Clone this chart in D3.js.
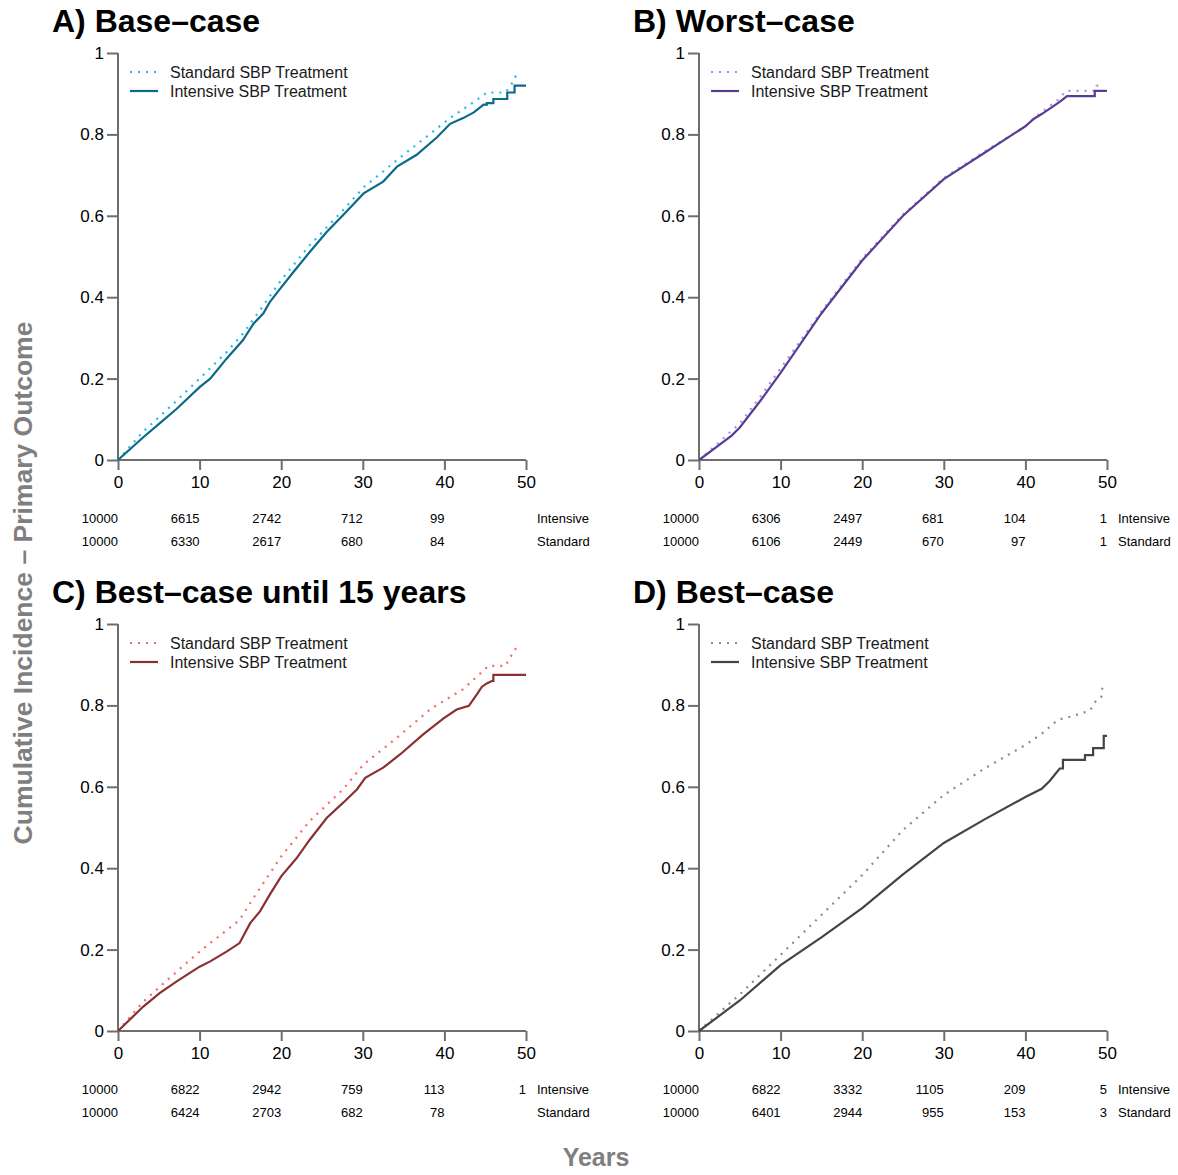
<!DOCTYPE html>
<html lang="en">
<head>
<meta charset="UTF-8">
<title>Cumulative incidence</title>
<script src="https://d3js.org/d3.v7.min.js"></script>
<style>
  body { margin: 0; background: #fff; }
  svg { font-family: "Liberation Sans", Arial, Helvetica, sans-serif; }
  .axis path, .axis line { stroke: #6e6e6e; stroke-width: 2; }
  .axis text { font-size: 17px; fill: #000; }
</style>
</head>
<body>
<svg width="1178" height="1175"></svg>
<script>
// [year, cumulative incidence]
const baseStandard = [[0,0],[3,0.068],[7.2,0.146],[10,0.2],[13.3,0.265],[15.3,0.31],[17.4,0.368],[20,0.442],[23.5,0.528],[27.6,0.614],[30.1,0.67],[34.2,0.737],[39.1,0.815],[40.7,0.84],[44,0.885],[45.2,0.903],[47.5,0.903],[48.3,0.926],[48.7,0.942],[49.5,0.942]];
const baseIntensive = [[0,0],[3.1,0.056],[5.1,0.09],[7.2,0.126],[10,0.179],[11.3,0.2],[13.3,0.249],[15.3,0.294],[16.6,0.335],[17.8,0.36],[18.6,0.388],[20,0.424],[21.5,0.462],[23.5,0.511],[25.6,0.561],[27.6,0.602],[30.1,0.655],[32.5,0.684],[34.2,0.721],[36.6,0.75],[39.1,0.793],[40.7,0.826],[42.3,0.84],[43.6,0.854],[44.8,0.873],[45.2,0.873],[45.2,0.877],[46,0.877],[46,0.887],[47.7,0.887],[47.7,0.903],[48.6,0.903],[48.6,0.92],[50,0.92]];

const worstStandard = [[0,0],[2,0.035],[5,0.09],[7.5,0.155],[10,0.225],[15,0.365],[20,0.495],[25,0.603],[30,0.693],[35,0.758],[40,0.82],[42,0.855],[44,0.885],[45,0.907],[48.6,0.907],[48.7,0.919],[49.4,0.923]];
const worstIntensive = [[0,0],[2,0.03],[4,0.06],[5,0.08],[7.5,0.145],[10,0.214],[15,0.36],[20,0.49],[25,0.6],[30,0.69],[35,0.755],[40,0.82],[41,0.838],[42,0.85],[44.2,0.88],[45.1,0.894],[48.5,0.894],[48.5,0.907],[50,0.907]];

const bestUntil15Standard = [[0,0],[3.1,0.072],[7.2,0.146],[10,0.195],[14.9,0.273],[16.6,0.327],[20,0.429],[23.5,0.516],[27.6,0.594],[30.1,0.655],[34.2,0.721],[38.3,0.791],[42.3,0.84],[45.4,0.897],[47.5,0.897],[47.9,0.913],[49.1,0.951]];
const bestUntil15Intensive = [[0,0],[3.1,0.06],[5.1,0.093],[7.2,0.122],[10,0.158],[11.3,0.171],[13.3,0.195],[14.9,0.216],[16.2,0.265],[17.4,0.294],[18.6,0.335],[20,0.38],[21.9,0.425],[23.5,0.47],[25.6,0.524],[27.6,0.561],[29.3,0.594],[30.3,0.622],[32.5,0.647],[34.6,0.68],[37.4,0.729],[39.9,0.768],[41.5,0.79],[43,0.799],[44,0.828],[44.6,0.846],[45.2,0.854],[45.8,0.86],[46,0.86],[46,0.875],[50,0.875]];

const bestStandard = [[0,0],[5,0.09],[10,0.187],[15,0.285],[20,0.383],[25,0.494],[30,0.58],[35,0.645],[40,0.703],[42,0.73],[44,0.765],[45.5,0.772],[47.9,0.787],[48.7,0.813],[49.3,0.821],[49.4,0.84],[49.6,0.856]];
const bestIntensive = [[0,0],[5,0.075],[10,0.162],[15,0.23],[20,0.302],[25,0.385],[30,0.462],[35,0.52],[40,0.575],[42,0.595],[43,0.615],[44.2,0.645],[44.6,0.645],[44.6,0.666],[47.3,0.666],[47.3,0.678],[48.3,0.678],[48.3,0.695],[49.6,0.695],[49.6,0.725],[50,0.725]];

const xTicks = [0, 10, 20, 30, 40, 50];
const yTicks = [0, 0.2, 0.4, 0.6, 0.8, 1];
const riskTimes = [0, 10, 20, 30, 40, 50];
const riskLabels = ["Intensive", "Standard"];

const baseRiskInt = [10000, 6615, 2742, 712, 99, null];
const baseRiskStd = [10000, 6330, 2617, 680, 84, null];
const worstRiskInt = [10000, 6306, 2497, 681, 104, 1];
const worstRiskStd = [10000, 6106, 2449, 670, 97, 1];
const bestUntil15RiskInt = [10000, 6822, 2942, 759, 113, 1];
const bestUntil15RiskStd = [10000, 6424, 2703, 682, 78, null];
const bestRiskInt = [10000, 6822, 3332, 1105, 209, 5];
const bestRiskStd = [10000, 6401, 2944, 955, 153, 3];

const legendNames = ["Standard SBP Treatment", "Intensive SBP Treatment"];

const panels = [
  { title: "A) Base\u2013case", left: 118, top: 53, std: baseStandard, int: baseIntensive,
    riskInt: baseRiskInt, riskStd: baseRiskStd, cStd: "#23b9ea", cInt: "#0b6a8a" },
  { title: "B) Worst\u2013case", left: 699, top: 53, std: worstStandard, int: worstIntensive,
    riskInt: worstRiskInt, riskStd: worstRiskStd, cStd: "#a78cf2", cInt: "#583d93" },
  { title: "C) Best\u2013case until 15 years", left: 118, top: 624, std: bestUntil15Standard, int: bestUntil15Intensive,
    riskInt: bestUntil15RiskInt, riskStd: bestUntil15RiskStd, cStd: "#f26a6a", cInt: "#8a3030" },
  { title: "D) Best\u2013case", left: 699, top: 624, std: bestStandard, int: bestIntensive,
    riskInt: bestRiskInt, riskStd: bestRiskStd, cStd: "#8c8c8c", cInt: "#444444" }
];

const W = 408, H = 407;
const svg = d3.select("svg");

panels.forEach(p => {
  const g = svg.append("g").attr("transform", `translate(${p.left},${p.top})`);
  const x = d3.scaleLinear().domain([0, 50]).range([0, W]);
  const y = d3.scaleLinear().domain([0, 1]).range([H, 0]);

  g.append("text")
    .attr("x", -66).attr("y", -21)
    .attr("font-size", 32).attr("font-weight", "bold")
    .text(p.title);

  g.append("g").attr("class", "axis")
    .attr("transform", `translate(0,${H})`)
    .call(d3.axisBottom(x).tickValues(xTicks).tickSize(10).tickPadding(6).tickFormat(d3.format("d")))
    .call(a => a.select(".domain").attr("d", `M0,0H${W}`));

  g.append("g").attr("class", "axis")
    .call(d3.axisLeft(y).tickValues(yTicks).tickSize(11).tickPadding(3).tickFormat(d => d === 0 || d === 1 ? d3.format("d")(d) : d3.format(".1f")(d)))
    .call(a => a.select(".domain").attr("d", `M0,${H}V0`));
  g.selectAll(".axis text").attr("font-family", "Liberation Sans, Arial, sans-serif");

  const line = d3.line().x(d => x(d[0])).y(d => y(d[1]));

  g.append("path").datum(p.std)
    .attr("d", line).attr("fill", "none")
    .attr("stroke", p.cStd).attr("stroke-width", 2.2)
    .attr("stroke-dasharray", "2,6");
  g.append("path").datum(p.int)
    .attr("d", line).attr("fill", "none")
    .attr("stroke", p.cInt).attr("stroke-width", 2.2);

  // legend
  const lg = g.append("g").attr("transform", "translate(12,19)");
  [p.cStd, p.cInt].forEach((c, i) => {
    lg.append("line")
      .attr("x1", 0).attr("x2", 28).attr("y1", i * 19).attr("y2", i * 19)
      .attr("stroke", c).attr("stroke-width", 2.2)
      .attr("stroke-dasharray", i === 0 ? "2,6" : null);
    lg.append("text")
      .attr("x", 40).attr("y", i * 19 + 6)
      .attr("font-size", 16).attr("fill", "#1a1a1a")
      .text(legendNames[i]);
  });

  // numbers at risk
  [p.riskInt, p.riskStd].forEach((row, r) => {
    const ty = H + 63 + r * 22.5;
    row.forEach((v, i) => {
      if (v === null) return;
      g.append("text")
        .attr("x", x(riskTimes[i])).attr("y", ty)
        .attr("text-anchor", "end").attr("font-size", 13)
        .text(v);
    });
    g.append("text")
      .attr("x", W + 11).attr("y", ty)
      .attr("font-size", 13)
      .text(riskLabels[r]);
  });
});

svg.append("text")
  .attr("transform", "translate(32,583) rotate(-90)")
  .attr("text-anchor", "middle")
  .attr("font-size", 26.5).attr("font-weight", "bold").attr("fill", "#7f7f7f")
  .text("Cumulative Incidence \u2013 Primary Outcome");

svg.append("text")
  .attr("x", 596).attr("y", 1166)
  .attr("text-anchor", "middle")
  .attr("font-size", 25).attr("font-weight", "bold").attr("fill", "#7f7f7f")
  .text("Years");
</script>
</body>
</html>
